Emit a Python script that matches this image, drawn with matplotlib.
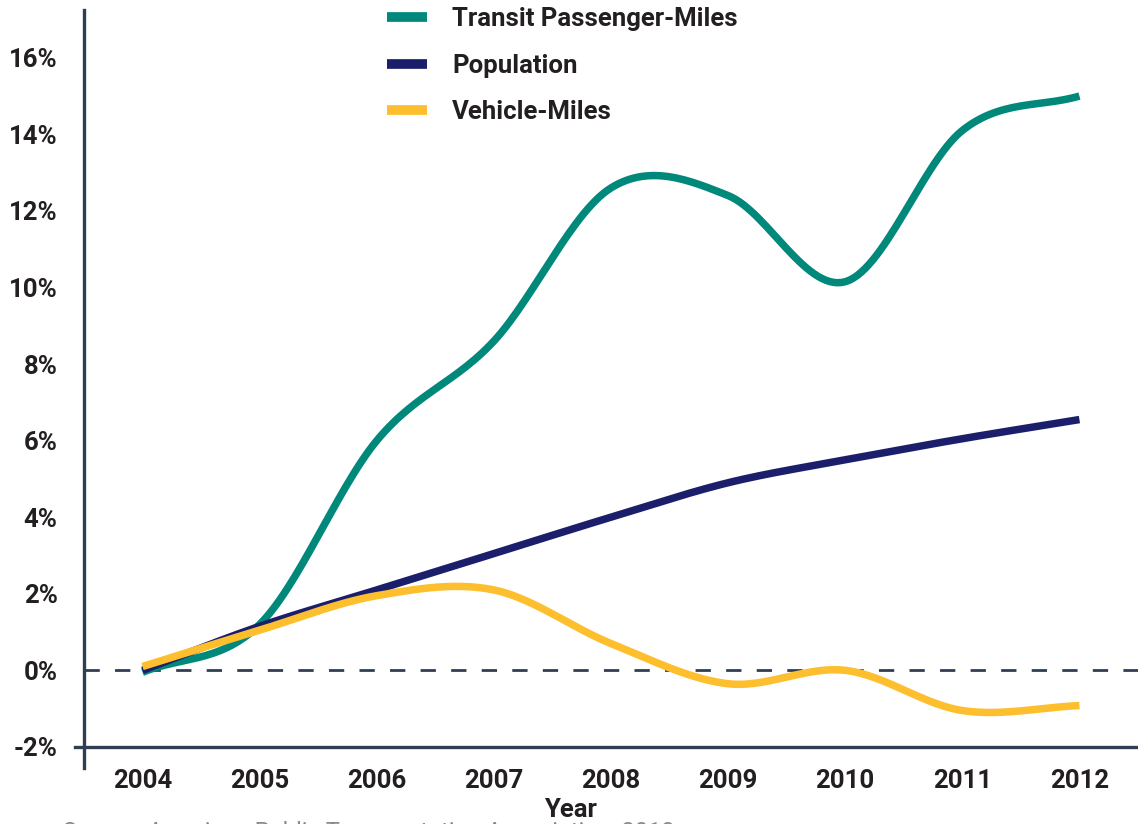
import numpy as np
import matplotlib.pyplot as plt
from matplotlib.lines import Line2D

years = [2004, 2005, 2006, 2007, 2008, 2009, 2010, 2011, 2012]
transit = [-0.05, 1.2, 6.0, 8.6, 12.6, 12.4, 10.15, 14.1, 15.0]
population = [0.0, 1.15, 2.1, 3.05, 4.0, 4.9, 5.5, 6.05, 6.55]
vehicle = [0.1, 1.05, 1.95, 2.1, 0.7, -0.35, 0.0, -1.05, -0.92]
yticks = [-2, 0, 2, 4, 6, 8, 10, 12, 14, 16]

teal = '#00897b'
navy = '#1b1f6b'
gold = '#fdbf2d'
slate = '#2f3e52'
ink = '#231f20'

plt.rcParams['font.family'] = ['Roboto', 'DejaVu Sans']


def smooth(x, y, n=30):
    # catmull-rom through the points, only for drawing the curve
    x = np.asarray(x, float)
    y = np.asarray(y, float)
    m = np.gradient(y, x)
    xs, ys = [], []
    for i in range(len(x) - 1):
        h = x[i + 1] - x[i]
        t = np.linspace(0, 1, n, endpoint=False)
        h00 = 2 * t**3 - 3 * t**2 + 1
        h10 = t**3 - 2 * t**2 + t
        h01 = -2 * t**3 + 3 * t**2
        h11 = t**3 - t**2
        xs.append(x[i] + t * h)
        ys.append(h00 * y[i] + h10 * h * m[i] + h01 * y[i + 1] + h11 * h * m[i + 1])
    xs.append([x[-1]])
    ys.append([y[-1]])
    return np.concatenate(xs), np.concatenate(ys)


fig = plt.figure(figsize=(11.38, 8.24), dpi=100)
ax = fig.add_axes([0.0738, 0.068, 0.9262, 0.920])

for data, col in [(transit, teal), (population, navy), (vehicle, gold)]:
    sx, sy = smooth(years, data)
    ax.plot(sx, sy, color=col, lw=5.4, solid_capstyle='butt', zorder=3)

ax.axhline(0, color=slate, lw=2, dashes=(5.5, 5.5), zorder=2)
ax.plot([2003.42, 2012.5], [-2, -2], color=slate, lw=2.4, clip_on=False, zorder=4)

ax.set_xlim(2003.5, 2012.5)
ax.set_ylim(-2.55, 17.25)
ax.set_xticks(years)
ax.set_xticklabels([str(y) for y in years])
ax.set_yticks(yticks)
ax.set_yticklabels([f'{v}%' for v in yticks])
ax.tick_params(axis='both', length=0, labelsize=18.5, labelcolor=ink)
ax.tick_params(axis='y', pad=19)
ax.tick_params(axis='x', pad=1)
for lab in ax.get_xticklabels() + ax.get_yticklabels():
    lab.set_fontweight('bold')

for s in ['top', 'right', 'bottom']:
    ax.spines[s].set_visible(False)
ax.spines['left'].set_color(slate)
ax.spines['left'].set_linewidth(2.4)

handles = [Line2D([], [], color=c, lw=7, solid_capstyle='butt')
           for c in (teal, navy, gold)]
labels = ['Transit Passenger-Miles', 'Population', 'Vehicle-Miles']
fig.legend(handles, labels, loc='upper left', bbox_to_anchor=(0.3195, 1.019),
           frameon=False, handlelength=1.55, handletextpad=1.0, labelspacing=0.87,
           prop={'size': 18.5, 'weight': 'bold'}, labelcolor=ink)

fig.text(0.501, 0.017, 'Year', ha='center', va='center', fontsize=18.5,
         fontweight='bold', color=ink)
fig.text(0.055, 0.004, 'Source: American Public Transportation Association, 2013',
         ha='left', va='top', fontsize=17, color='#8a8a8a')

fig.savefig('out.png', dpi=100)
